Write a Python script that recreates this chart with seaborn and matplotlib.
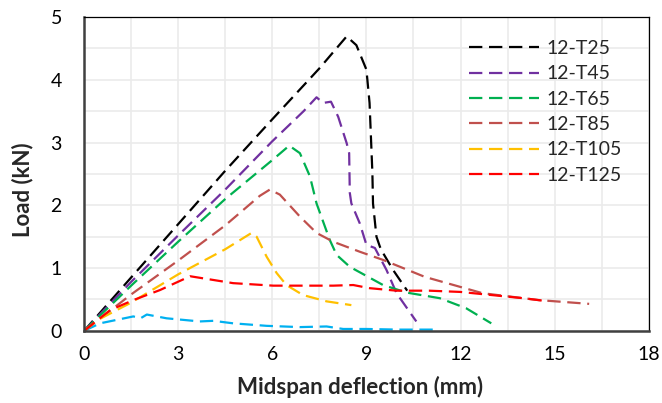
import numpy as np
import pandas as pd
import matplotlib
matplotlib.use("Agg")
import matplotlib.pyplot as plt
import seaborn as sns
from matplotlib.ticker import MultipleLocator

# --- data ---
t25_x = [0, 1.5, 3.0, 4.5, 6.0, 7.5, 8.37, 8.68, 9.0, 9.1, 9.19, 9.21, 9.32, 9.43, 9.53, 9.85, 10.3]
t25_y = [0, 0.85, 1.7, 2.55, 3.37, 4.18, 4.69, 4.55, 4.16, 3.63, 2.52, 2.03, 1.5, 1.34, 1.24, 0.97, 0.64]

t45_x = [0, 1.5, 3.0, 4.5, 6.0, 7.0, 7.41, 7.62, 7.87, 8.1, 8.37, 8.45, 8.47, 8.52, 8.79, 9.0, 9.27, 9.64, 9.96, 10.59]
t45_y = [0, 0.78, 1.52, 2.25, 3.02, 3.5, 3.72, 3.63, 3.65, 3.41, 2.99, 2.83, 2.2, 2.03, 1.71, 1.37, 1.32, 0.97, 0.6, 0.15]

t65_x = [0, 1.5, 3.0, 4.5, 6.0, 6.54, 6.88, 7.2, 7.41, 7.83, 8.05, 8.47, 9.53, 10.28, 11.34, 12.18, 12.98]
t65_y = [0, 0.72, 1.42, 2.1, 2.72, 2.95, 2.83, 2.46, 2.03, 1.45, 1.21, 1.02, 0.73, 0.61, 0.52, 0.36, 0.12]

t85_x = [0, 1.5, 3.0, 4.5, 5.6, 5.92, 6.24, 6.88, 7.41, 7.94, 8.79, 9.53, 10.86, 12.7, 14.5, 16.1]
t85_y = [0, 0.58, 1.12, 1.68, 2.15, 2.25, 2.17, 1.82, 1.56, 1.42, 1.26, 1.13, 0.86, 0.6, 0.49, 0.43]

t105_x = [0, 0.5, 1.5, 3.0, 4.5, 5.34, 5.5, 5.82, 6.14, 6.45, 6.98, 7.73, 8.52]
t105_y = [0, 0.19, 0.45, 0.9, 1.3, 1.56, 1.5, 1.18, 0.92, 0.73, 0.57, 0.47, 0.41]

t125_x = [0, 0.83, 1.57, 2.42, 3.38, 4.75, 6.03, 7.94, 8.58, 9.1, 9.96, 11.0, 12.0, 13.0, 14.0, 14.8]
t125_y = [0, 0.33, 0.49, 0.65, 0.87, 0.76, 0.72, 0.72, 0.73, 0.68, 0.64, 0.64, 0.62, 0.57, 0.52, 0.47]

# seventh curve, not in the legend
extra_x = [0, 0.51, 1.57, 1.8, 2.0, 2.63, 3.69, 4.12, 4.75, 5.82, 6.88, 7.73, 8.26, 9.0, 10.0, 11.28]
extra_y = [0, 0.12, 0.23, 0.2, 0.26, 0.2, 0.15, 0.16, 0.12, 0.08, 0.06, 0.07, 0.03, 0.03, 0.02, 0.02]

names = ["12-T25", "12-T45", "12-T65", "12-T85", "12-T105", "12-T125", "_nolegend_"]
colors = ["#000000", "#7030A0", "#00B050", "#C0504D", "#FFC000", "#FF0000", "#00B0F0"]
xs = [t25_x, t45_x, t65_x, t85_x, t105_x, t125_x, extra_x]
ys = [t25_y, t45_y, t65_y, t85_y, t105_y, t125_y, extra_y]

sns.set_style("white")
plt.rcParams["font.family"] = ["Lato", "DejaVu Sans"]

fig = plt.figure(figsize=(6.62, 4.03), dpi=100)
ax = fig.add_axes([0.127, 0.179, 0.853, 0.779])

# draw the extra curve first so the legend ones sit on top
order = [6, 0, 1, 2, 3, 4, 5]
for i in order:
    df = pd.DataFrame({"x": xs[i], "y": ys[i]})
    sns.lineplot(data=df, x="x", y="y", color=colors[i], label=names[i],
                 sort=False, estimator=None, ax=ax, linewidth=1.6,
                 linestyle=(0, (6, 3)))

ax.set_xlim(0, 18)
ax.set_ylim(0, 5)
ax.xaxis.set_major_locator(MultipleLocator(3))
ax.yaxis.set_major_locator(MultipleLocator(1))
ax.xaxis.set_minor_locator(MultipleLocator(1.5))
ax.yaxis.set_minor_locator(MultipleLocator(0.5))
ax.grid(True, which="both", color="#EBEBEB", linewidth=1.2)
ax.set_axisbelow(True)
ax.tick_params(which="both", length=0, labelsize=14, colors="#000000")
ax.tick_params(axis="x", pad=11)
ax.tick_params(axis="y", pad=16)

for side in ["top", "right"]:
    ax.spines[side].set_color("#000000")
    ax.spines[side].set_linewidth(0.9)
for side in ["left", "bottom"]:
    ax.spines[side].set_color("#404040")
    ax.spines[side].set_linewidth(1.8)

ax.set_xlabel("Midspan deflection (mm)", fontsize=16, fontweight="bold")
ax.set_ylabel("Load (kN)", fontsize=16, fontweight="bold")
ax.xaxis.set_label_coords(0.488, -0.145)
ax.yaxis.set_label_coords(-0.09, 0.45)

handles, labels = ax.get_legend_handles_labels()
ax.legend(handles, labels, loc="upper right", bbox_to_anchor=(0.977, 0.97),
          frameon=False, fontsize=14, handlelength=3.6, handletextpad=0.4,
          labelspacing=0.43, borderaxespad=0.3)

fig.savefig("out.png", dpi=100)
